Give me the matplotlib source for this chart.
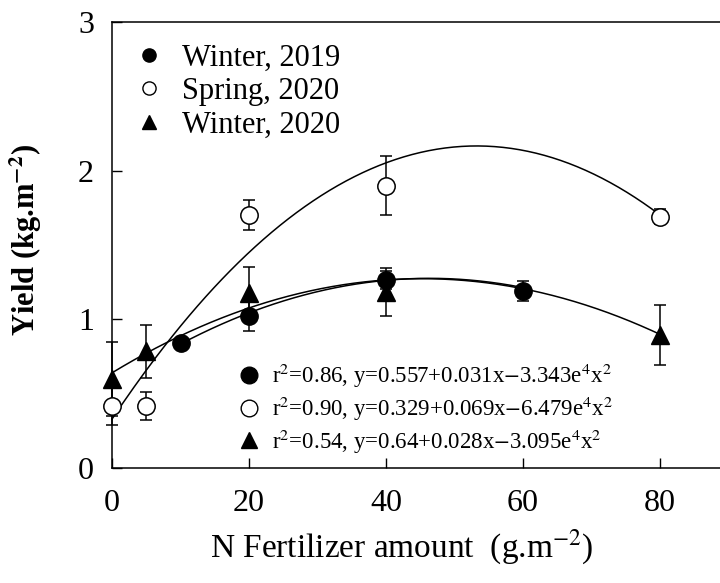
import numpy as np
import matplotlib
matplotlib.use("Agg")
from matplotlib import pyplot as plt
from matplotlib.lines import Line2D

plt.rcParams["font.family"] = ["Liberation Serif", "DejaVu Serif"]
plt.rcParams["mathtext.fontset"] = "stix"

# data
x_w19 = [10, 20, 40, 60]
y_w19 = [0.84, 1.02, 1.265, 1.19]
e_w19 = [0.03, 0.10, 0.06, 0.07]

x_s20 = [0, 5, 20, 40, 80]
y_s20 = [0.42, 0.415, 1.70, 1.90, 1.69]
e_s20 = [0.13, 0.095, 0.10, 0.20, 0.05]

x_w20 = [0, 5, 20, 40, 80]
y_w20 = [0.60, 0.785, 1.18, 1.185, 0.895]
e_w20 = [0.25, 0.18, 0.17, 0.16, 0.20]

# fitted quadratics as printed on the chart (c0, c1, c2)
fit_w19 = [0.557, 0.031, -3.343e-4]
fit_s20 = [0.329, 0.069, -6.479e-4]
fit_w20 = [0.64, 0.028, -3.095e-4]

labels = ["Winter, 2019", "Spring, 2020", "Winter, 2020"]
eq_labels = [
    r"r$^2$=0.86, y=0.557+0.031x$-$3.343e$^4$x$^2$",
    r"r$^2$=0.90, y=0.329+0.069x$-$6.479e$^4$x$^2$",
    r"r$^2$=0.54, y=0.64+0.028x$-$3.095e$^4$x$^2$",
]

fig = plt.figure(figsize=(7.2, 5.83), dpi=100)
ax = fig.add_axes([0.1556, 0.1973, 0.856, 0.765])

def curve(coef, x0, x1):
    xs = np.linspace(x0, x1, 200)
    return xs, np.polyval(coef[::-1], xs)

for coef, (a, b) in [(fit_w19, (10, 60)), (fit_s20, (0, 80)), (fit_w20, (0, 80))]:
    xs, ys = curve(coef, a, b)
    ax.plot(xs, ys, color="black", lw=1.1, zorder=2)

ms = 12.5
common = dict(ecolor="black", elinewidth=1.1, capsize=4.5, capthick=1.1, ls="none", zorder=3)
ax.errorbar(x_s20, y_s20, yerr=e_s20, marker="o", ms=ms, mfc="white", mec="black", mew=1.1, **common)
ax.errorbar(x_w20, y_w20, yerr=e_w20, marker="^", ms=ms, mfc="black", mec="black", **common)
ax.errorbar(x_w19, y_w19, yerr=e_w19, marker="o", ms=ms, mfc="black", mec="black", **common)
for c in ax.get_children():
    if hasattr(c, "set_clip_on"):
        c.set_clip_on(False)

ax.set_xlim(0, 90)
ax.set_ylim(0, 3)
ax.set_xticks([0, 20, 40, 60, 80])
ax.set_yticks([0, 1, 2, 3])
ax.tick_params(direction="in", length=7, width=1, labelsize=23)
ax.tick_params(axis="x", pad=15)
ax.tick_params(axis="y", pad=13)
for s in ax.spines.values():
    s.set_linewidth(1.1)

ax.set_ylabel(r"Yield (kg.m$^{\mathbf{-2}}$)", fontsize=22, fontweight="bold")
ax.yaxis.set_label_coords(-0.11, 0.51)
ax.set_xlabel(r"N Fertilizer amount  (g.m$^{-2}$)", fontsize=24)
ax.xaxis.set_label_coords(0.47, -0.135)

h1 = [Line2D([], [], ls="none", marker="o", ms=9.5, mfc="black", mec="black"),
      Line2D([], [], ls="none", marker="o", ms=9.5, mfc="white", mec="black"),
      Line2D([], [], ls="none", marker="^", ms=9.5, mfc="black", mec="black")]
leg1 = ax.legend(h1, labels, loc="upper left", bbox_to_anchor=(0.0, 1.0), frameon=False,
                 fontsize=22, handlelength=1.0, handletextpad=0.6, labelspacing=0.15,
                 borderaxespad=0.3)
ax.add_artist(leg1)
h2 = [Line2D([], [], ls="none", marker="o", ms=12, mfc="black", mec="black"),
      Line2D([], [], ls="none", marker="o", ms=12, mfc="white", mec="black"),
      Line2D([], [], ls="none", marker="^", ms=12, mfc="black", mec="black")]
ax.legend(h2, eq_labels, loc="lower left", bbox_to_anchor=(0.178, -0.008), frameon=False,
          fontsize=16.5, handlelength=1.0, handletextpad=0.5, labelspacing=0.2,
          borderaxespad=0.3)

fig.savefig("out.png", dpi=100)
